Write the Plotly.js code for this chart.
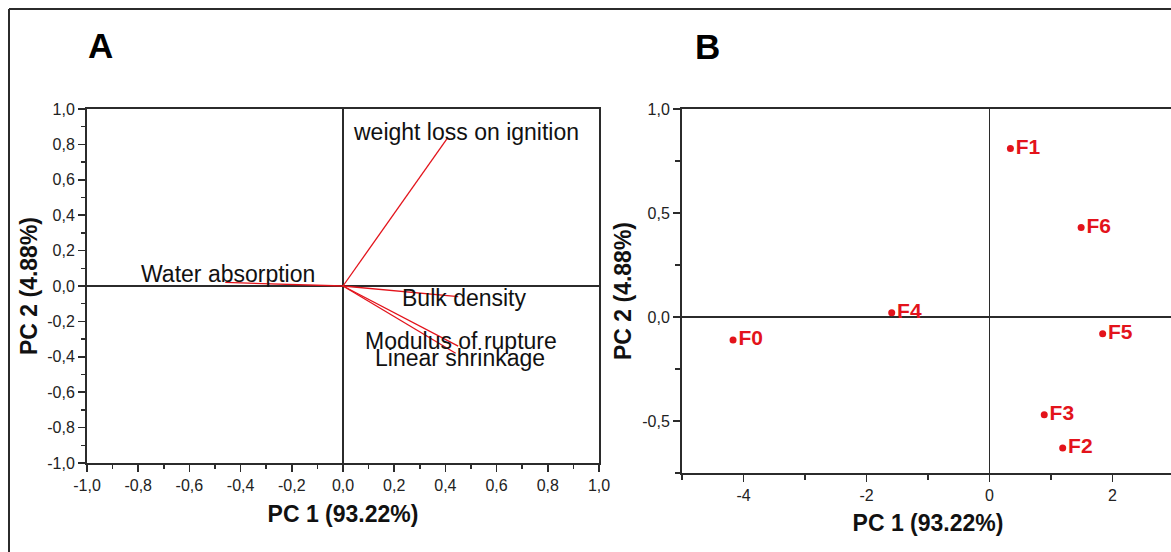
<!DOCTYPE html>
<html>
<head>
<meta charset="utf-8">
<script src="https://cdn.plot.ly/plotly-3.0.1.min.js"></script>
<style>
  html, body { margin: 0; padding: 0; overflow: hidden; background: #fff; }
  #chart { width: 1180px; height: 552px; }
</style>
</head>
<body>
<div id="chart"></div>
<script>
// ---- Data ----
// Panel A: loading vectors
const varNames = ['weight loss on ignition', 'Water absorption', 'Bulk density', 'Modulus of rupture', 'Linear shrinkage'];
const pc1Load = [0.41, -0.46, 0.45, 0.45, 0.44];
const pc2Load = [0.84, 0.02, -0.06, -0.34, -0.38];

// Panel B: sample scores
const sampleNames = ['F0', 'F1', 'F2', 'F3', 'F4', 'F5', 'F6'];
const pc1Score = [-4.17, 0.34, 1.19, 0.89, -1.59, 1.84, 1.49];
const pc2Score = [-0.11, 0.81, -0.63, -0.47, 0.02, -0.08, 0.43];

// Tick labels
const tickValsA = [-1, -0.8, -0.6, -0.4, -0.2, 0, 0.2, 0.4, 0.6, 0.8, 1];
const tickTextA = ['-1,0', '-0,8', '-0,6', '-0,4', '-0,2', '0,0', '0,2', '0,4', '0,6', '0,8', '1,0'];
const tickValsBx = [-4, -2, 0, 2];
const tickTextBx = ['-4', '-2', '0', '2'];
const tickValsBy = [-0.5, 0, 0.5, 1];
const tickTextBy = ['-0,5', '0,0', '0,5', '1,0'];

const xTitle = 'PC 1 (93.22%)';
const yTitle = 'PC 2 (4.88%)';

// ---- Styling ----
const W = 1180, H = 552;
const FONT = 'Liberation Sans, Arial, sans-serif';
const RED = '#e3131b';
const AX = '#2b2b2b';
// label pixel offsets (style only) for vector labels
const labelShift = [[18, 5], [3, 8], [6, -1], [3, 5], [4, -5]];

const traces = [];
varNames.forEach((n, i) => {
  traces.push({
    type: 'scatter', mode: 'lines', xaxis: 'x', yaxis: 'y',
    x: [0, pc1Load[i]], y: [0, pc2Load[i]],
    line: { color: RED, width: 1.3 }, showlegend: false, hoverinfo: 'skip'
  });
});
traces.push({
  type: 'scatter', mode: 'markers+text', xaxis: 'x2', yaxis: 'y2',
  x: pc1Score, y: pc2Score, text: sampleNames,
  textposition: 'middle right',
  marker: { color: RED, size: 7 },
  textfont: { family: FONT, size: 21, color: RED, weight: 'bold' },
  showlegend: false, cliponaxis: false
});

const annotations = varNames.map((n, i) => ({
  x: pc1Load[i], y: pc2Load[i], xref: 'x', yref: 'y',
  text: n, showarrow: false, xanchor: 'center', yanchor: 'middle',
  xshift: labelShift[i][0], yshift: labelShift[i][1],
  font: { family: FONT, size: 23, color: '#111' }
}));
annotations.push({
  x: 100 / W, y: 1 - 45 / H, xref: 'paper', yref: 'paper', showarrow: false,
  text: '<b>A</b>', font: { family: FONT, size: 35, color: '#000' }, xanchor: 'center', yanchor: 'middle'
});
annotations.push({
  x: 707 / W, y: 1 - 46 / H, xref: 'paper', yref: 'paper', showarrow: false,
  text: '<b>B</b>', font: { family: FONT, size: 35, color: '#000' }, xanchor: 'center', yanchor: 'middle'
});

const baseAxis = {
  showgrid: false, showline: true, mirror: true, linecolor: AX, linewidth: 2,
  zeroline: true, zerolinecolor: AX, zerolinewidth: 1.8,
  ticks: 'outside', ticklen: 7, tickwidth: 1.5, tickcolor: AX,
  tickfont: { family: FONT, size: 16, color: '#222' },
  tickmode: 'array', fixedrange: true
};

const layout = {
  width: W, height: H,
  margin: { l: 0, r: 0, t: 0, b: 0 },
  paper_bgcolor: '#fff', plot_bgcolor: '#fff',
  showlegend: false,
  font: { family: FONT },
  xaxis: Object.assign({}, baseAxis, {
    domain: [87 / W, 599 / W], anchor: 'y', range: [-1, 1],
    tickvals: tickValsA, ticktext: tickTextA,
    minor: { tickmode: 'linear', tick0: 0, dtick: 0.1, ticks: 'outside', ticklen: 4, tickwidth: 1.5, tickcolor: AX, showgrid: false },
    title: { text: '<b>' + xTitle + '</b>', font: { family: FONT, size: 23, color: '#111' }, standoff: 13 }
  }),
  yaxis: Object.assign({}, baseAxis, {
    domain: [1 - 463 / H, 1 - 109 / H], anchor: 'x', range: [-1, 1],
    tickvals: tickValsA, ticktext: tickTextA,
    minor: { tickmode: 'linear', tick0: 0, dtick: 0.1, ticks: 'outside', ticklen: 4, tickwidth: 1.5, tickcolor: AX, showgrid: false },
    title: { text: '<b>' + yTitle + '</b>', font: { family: FONT, size: 23, color: '#111' }, standoff: 3 }
  }),
  xaxis2: Object.assign({}, baseAxis, {
    domain: [682 / W, 1174 / W], anchor: 'y2', range: [-5, 3],
    tickvals: tickValsBx, ticktext: tickTextBx,
    minor: { tickmode: 'linear', tick0: 0, dtick: 1, ticks: 'outside', ticklen: 5, tickwidth: 1.5, tickcolor: AX, showgrid: false },
    title: { text: '<b>' + xTitle + '</b>', font: { family: FONT, size: 23, color: '#111' }, standoff: 12 }
  }),
  yaxis2: Object.assign({}, baseAxis, {
    domain: [1 - 473 / H, 1 - 109 / H], anchor: 'x2', range: [-0.75, 1],
    tickvals: tickValsBy, ticktext: tickTextBy,
    minor: { tickmode: 'linear', tick0: 0, dtick: 0.25, ticks: 'outside', ticklen: 5, tickwidth: 1.5, tickcolor: AX, showgrid: false },
    title: { text: '<b>' + yTitle + '</b>', font: { family: FONT, size: 23, color: '#111' }, standoff: 4 }
  }),
  annotations: annotations,
  shapes: [
    { type: 'line', xref: 'paper', yref: 'paper', x0: 9 / W, x1: 1, y0: 1 - 9 / H, y1: 1 - 9 / H, line: { color: AX, width: 2 } },
    { type: 'line', xref: 'paper', yref: 'paper', x0: 9 / W, x1: 9 / W, y0: 1 - 9 / H, y1: 0, line: { color: AX, width: 2 } }
  ]
};

Plotly.newPlot('chart', traces, layout, { displayModeBar: false, staticPlot: true });
</script>
</body>
</html>
